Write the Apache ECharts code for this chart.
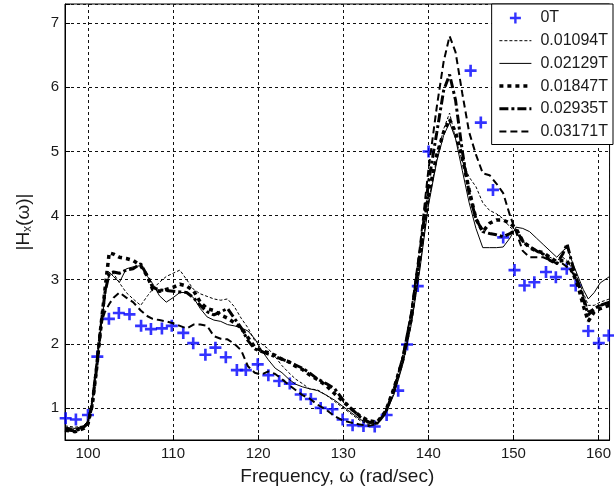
<!DOCTYPE html>
<html><head><meta charset="utf-8">
<script src="https://cdn.jsdelivr.net/npm/echarts@6/dist/echarts.min.js"></script>
<style>html,body{margin:0;padding:0;background:#fff}#c{width:614px;height:496px}</style>
</head><body><div id="c"></div>
<script>
// Measured 0T points
const freq0T = [97.38,98.58,100.0,101.1,102.46,103.63,104.88,106.24,107.4,108.69,
  109.85,111.2,112.37,113.8,114.98,116.2,117.5,118.55,119.95,121.2,
  122.47,123.72,125.0,126.2,127.35,128.73,129.93,131.1,132.38,133.7,
  135.1,136.46,137.5,138.76,140.03,144.97,146.17,147.6,148.8,150.13,
  151.3,152.46,153.83,154.99,156.27,157.32,158.8,160.04,161.2];
const mag0T = [0.84,0.82,0.89,1.80,2.39,2.48,2.46,2.28,2.23,2.24,
  2.28,2.17,2.01,1.83,1.94,1.79,1.59,1.59,1.68,1.51,
  1.42,1.38,1.21,1.14,1.00,0.98,0.82,0.73,0.72,0.71,
  0.89,1.27,1.99,2.90,5.00,6.26,5.45,4.40,3.66,3.15,
  2.91,2.96,3.12,3.04,3.17,2.91,2.20,2.01,2.13];

// Frequency grid for the field-on curves
const freq = [97.3,98.5,99.5,100,100.5,101,101.5,102,102.5,103,
  103.7,104.5,105.3,106.2,107,107.6,108.4,109.2,110,110.8,
  111.6,112.4,113.2,114,114.8,115.6,116.4,117.2,118,118.8,
  119.6,120.4,121.2,122,122.8,123.6,124.4,125.2,126,127,
  128,129,130,131,132,133,134,135,136,137,
  138,139,140,141,141.8,142.5,143.2,144,144.8,145.6,
  146.4,147.2,148,148.8,149.6,150.3,151.1,151.9,152.7,153.5,
  154.3,155.1,155.8,156.3,157,157.6,158.2,158.8,159.5,160.2,
  161.3];

const mag01094 = [0.72,0.70,0.72,0.80,1.10,1.65,2.25,2.80,3.05,3.10,
  2.95,2.80,2.70,2.60,2.75,2.85,2.96,3.05,3.10,3.15,
  3.00,2.85,2.78,2.74,2.70,2.68,2.70,2.58,2.40,2.25,
  2.05,2.00,1.92,1.80,1.66,1.55,1.45,1.38,1.30,1.28,
  1.20,1.10,1.00,0.90,0.80,0.74,0.76,0.95,1.25,1.70,
  2.35,3.20,4.20,4.90,5.35,5.60,5.20,4.85,4.60,4.45,
  4.20,4.08,4.03,3.95,3.82,3.75,3.60,3.50,3.45,3.40,
  3.35,3.30,3.35,3.30,3.15,3.00,2.80,2.60,2.60,2.65,
  2.70];
const mag02129 = [0.70,0.68,0.72,0.80,1.10,1.60,2.20,2.75,3.12,3.05,
  2.96,3.17,3.20,3.22,3.05,2.94,2.75,2.65,2.72,2.80,
  2.80,2.72,2.55,2.42,2.37,2.35,2.30,2.28,2.25,2.20,
  2.08,1.90,1.75,1.62,1.55,1.45,1.37,1.33,1.30,1.27,
  1.20,1.12,1.02,0.92,0.82,0.76,0.76,0.92,1.22,1.68,
  2.30,3.15,4.15,4.85,5.25,5.45,5.20,4.70,4.20,3.80,
  3.50,3.50,3.50,3.51,3.65,3.82,3.80,3.75,3.65,3.55,
  3.45,3.35,3.45,3.50,3.25,3.05,2.85,2.70,2.80,2.95,
  3.05];
const mag01847 = [0.65,0.63,0.68,0.75,1.05,1.60,2.25,2.85,3.42,3.40,
  3.35,3.33,3.30,3.22,3.05,2.85,2.82,2.85,2.88,2.93,
  2.90,2.83,2.65,2.55,2.52,2.45,2.40,2.33,2.25,2.10,
  1.95,1.89,1.86,1.82,1.76,1.72,1.65,1.60,1.52,1.44,
  1.35,1.22,1.10,0.98,0.87,0.80,0.78,0.95,1.32,1.75,
  2.40,3.35,4.30,4.95,5.30,5.50,5.30,4.90,4.40,3.95,
  3.75,3.88,3.93,3.93,3.88,3.80,3.60,3.50,3.45,3.42,
  3.35,3.28,3.30,3.30,3.10,2.90,2.60,2.35,2.50,2.55,
  2.60];
const mag02935 = [0.66,0.64,0.70,0.76,1.05,1.60,2.25,2.80,3.10,3.12,
  3.10,3.15,3.17,3.25,3.05,2.88,2.84,2.83,2.82,2.81,
  2.80,2.72,2.60,2.50,2.45,2.50,2.55,2.40,2.25,2.05,
  1.92,1.88,1.84,1.80,1.76,1.72,1.67,1.62,1.55,1.45,
  1.38,1.30,1.12,0.98,0.86,0.78,0.76,0.93,1.30,1.78,
  2.45,3.40,4.50,5.30,5.95,6.20,5.80,5.00,4.35,3.95,
  3.75,3.72,3.70,3.67,3.72,3.78,3.60,3.52,3.45,3.40,
  3.30,3.25,3.40,3.56,3.20,2.95,2.70,2.45,2.55,2.60,
  2.65];
const mag03171 = [0.68,0.66,0.70,0.78,1.10,1.70,2.30,2.50,2.62,2.72,
  2.80,2.72,2.65,2.52,2.43,2.39,2.37,2.35,2.32,2.28,
  2.24,2.30,2.30,2.28,2.12,2.08,2.07,2.00,1.90,1.65,
  1.55,1.52,1.57,1.53,1.45,1.36,1.28,1.20,1.15,1.05,
  0.97,0.87,0.80,0.77,0.74,0.72,0.75,0.95,1.30,1.80,
  2.50,3.50,4.70,5.70,6.40,6.80,6.55,5.90,5.30,4.95,
  4.66,4.63,4.50,4.35,4.00,3.75,3.45,3.35,3.35,3.35,
  3.30,3.25,3.25,3.20,3.10,2.95,2.75,2.50,2.55,2.60,
  2.62];

const names = ['0T','0.01094T','0.02129T','0.01847T','0.02935T','0.03171T'];
const xTickStep = 10;
const yTickStep = 1;

const pair = (xs, ys) => xs.map((x, i) => [x, ys[i]]);
const plus = 'path://M3.9,0H6.1V3.9H10V6.1H6.1V10H3.9V6.1H0V3.9H3.9Z';
const FONT = 'Liberation Sans, Arial, Helvetica, sans-serif';

// line styles (width, dash) for the five field-on curves
const lineStyles = [
  { width: 1, type: [3, 2] },
  { width: 1, type: 'solid' },
  { width: 3.5, type: [4, 4] },
  { width: 3, type: [9, 3, 3, 3] },
  { width: 2, type: [7, 4] }
];
const lineData = [mag01094, mag02129, mag01847, mag02935, mag03171];

const chart = echarts.init(document.getElementById('c'), null, { renderer: 'canvas' });
const tickFmt = step => v => (Math.abs(v / step - Math.round(v / step)) < 1e-6 ? String(Math.round(v)) : '');

chart.setOption({
  animation: false,
  backgroundColor: '#fff',
  textStyle: { fontFamily: FONT },
  grid: { left: 65, right: 0, top: 4, bottom: 56, show: true, borderColor: '#000', borderWidth: 1, backgroundColor: '#fff' },
  xAxis: {
    type: 'value', min: 97.3, max: 161.3, splitNumber: 6,
    name: 'Frequency, \u03c9 (rad/sec)', nameLocation: 'middle', nameGap: 27,
    nameTextStyle: { fontSize: 19, color: '#1a1a1a', fontFamily: FONT },
    axisLine: { show: true, lineStyle: { color: '#000', width: 1 } },
    axisTick: { show: true, inside: true, length: 5, lineStyle: { color: '#000' } },
    axisLabel: { fontSize: 15, color: '#1a1a1a', margin: 6, fontFamily: FONT, formatter: tickFmt(xTickStep) },
    splitLine: { show: true, lineStyle: { color: '#111', width: 1, type: [3, 3] } }
  },
  yAxis: {
    type: 'value', min: 0.5, max: 7.3, splitNumber: 7,
    name: '|H{sub|x}(\u03c9)|', nameLocation: 'middle', nameGap: 31, nameRotate: 90,
    nameTextStyle: { fontSize: 19, color: '#1a1a1a', fontFamily: FONT,
      rich: { sub: { fontSize: 12, color: '#1a1a1a', fontFamily: FONT, padding: [9, 0, 0, 0] } } },
    axisLine: { show: true, lineStyle: { color: '#000', width: 1 } },
    axisTick: { show: true, inside: true, length: 5, lineStyle: { color: '#000' } },
    axisLabel: { fontSize: 15, color: '#1a1a1a', margin: 6, fontFamily: FONT, formatter: tickFmt(yTickStep) },
    splitLine: { show: true, lineStyle: { color: '#111', width: 1, type: [3, 3] } }
  },
  legend: {
    orient: 'vertical', right: 1, top: 4,
    backgroundColor: '#fff', borderColor: '#000', borderWidth: 1,
    padding: [6, 5, 5, 6], itemWidth: 32, itemHeight: 11, itemGap: 6.7,
    textStyle: { fontSize: 16, color: '#1a1a1a', fontFamily: FONT, lineHeight: 14, padding: [0, 0, 0, 4] },
    data: names.map((n, i) => i === 0 ? { name: n } : {
      name: n, itemStyle: { opacity: 0 },
      lineStyle: { color: '#000', width: lineStyles[i - 1].width, type: lineStyles[i - 1].type }
    })
  },
  series: [
    { name: names[0], type: 'scatter', data: pair(freq0T, mag0T), symbol: plus, symbolSize: 12,
      itemStyle: { color: '#0000ff' }, z: 2, clip: true }
  ].concat(lineData.map((ys, i) => ({
    name: names[i + 1], type: 'line', data: pair(freq, ys), symbol: 'none',
    lineStyle: { color: '#000', width: lineStyles[i].width, type: lineStyles[i].type },
    itemStyle: { color: '#000' }, z: 3, clip: true
  })))
});
</script></body></html>
